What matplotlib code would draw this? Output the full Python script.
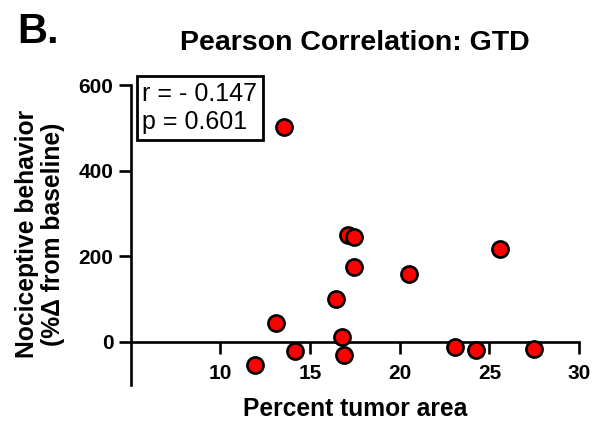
import matplotlib
matplotlib.use('Agg')
import matplotlib.pyplot as plt

plt.rcParams['font.family'] = ['Liberation Sans', 'DejaVu Sans']

# percent tumor area vs nociceptive behaviour (% change from baseline)
tumor_area = [13.55, 17.13, 17.46, 17.46, 16.42, 13.09, 16.79, 14.19, 16.89, 11.96,
              20.52, 25.6, 23.1, 24.26, 27.5]
nociception = [502, 249, 244, 174, 100, 43, 12, -22, -32, -55,
               158, 216, -12, -20, -18]
x_ticks = [10, 15, 20, 25, 30]
y_ticks = [0, 200, 400, 600]
stats_text = 'r = - 0.147\np = 0.601'

fig = plt.figure(figsize=(6.02, 4.23), dpi=100)
ax = fig.add_axes([0.217, 0.091, 0.745, 0.708])

ax.scatter(tumor_area, nociception, s=135, color='#ff0000', edgecolor='black',
           linewidth=1.9, zorder=3, clip_on=False)

ax.set_xlim(5, 30)
ax.set_ylim(-100, 600)
ax.set_xticks(x_ticks)
ax.set_yticks(y_ticks)

for side in ['top', 'right']:
    ax.spines[side].set_visible(False)
ax.spines['bottom'].set_position(('data', 0))
for side in ['left', 'bottom']:
    ax.spines[side].set_linewidth(1.9)
    ax.spines[side].set_capstyle('projecting')

ax.tick_params(axis='both', width=1.9, length=8.8, labelsize=15)
ax.tick_params(axis='x', pad=7.5)
ax.tick_params(axis='y', pad=3.5)
for lbl in ax.get_xticklabels() + ax.get_yticklabels():
    lbl.set_fontweight('bold')

ax.text(5.64, 608, stats_text, va='top', ha='left', fontsize=18, linespacing=1.25,
        bbox=dict(boxstyle='square,pad=0.22', facecolor='white', edgecolor='black',
                  linewidth=2))

fig.text(0.59, 0.882, 'Pearson Correlation: GTD', ha='center', va='baseline',
         fontsize=20.5, fontweight='bold')
fig.text(0.028, 0.898, 'B.', ha='left', va='baseline', fontsize=30, fontweight='bold')
fig.text(0.59, 0.016, 'Percent tumor area', ha='center', va='baseline',
         fontsize=17.7, fontweight='bold')
fig.text(0.066, 0.447, 'Nociceptive behavior\n(%\u0394 from baseline)', ha='center',
         va='center', rotation=90, fontsize=17.7, fontweight='bold', linespacing=1.1)

fig.savefig('out.png', dpi=100)
